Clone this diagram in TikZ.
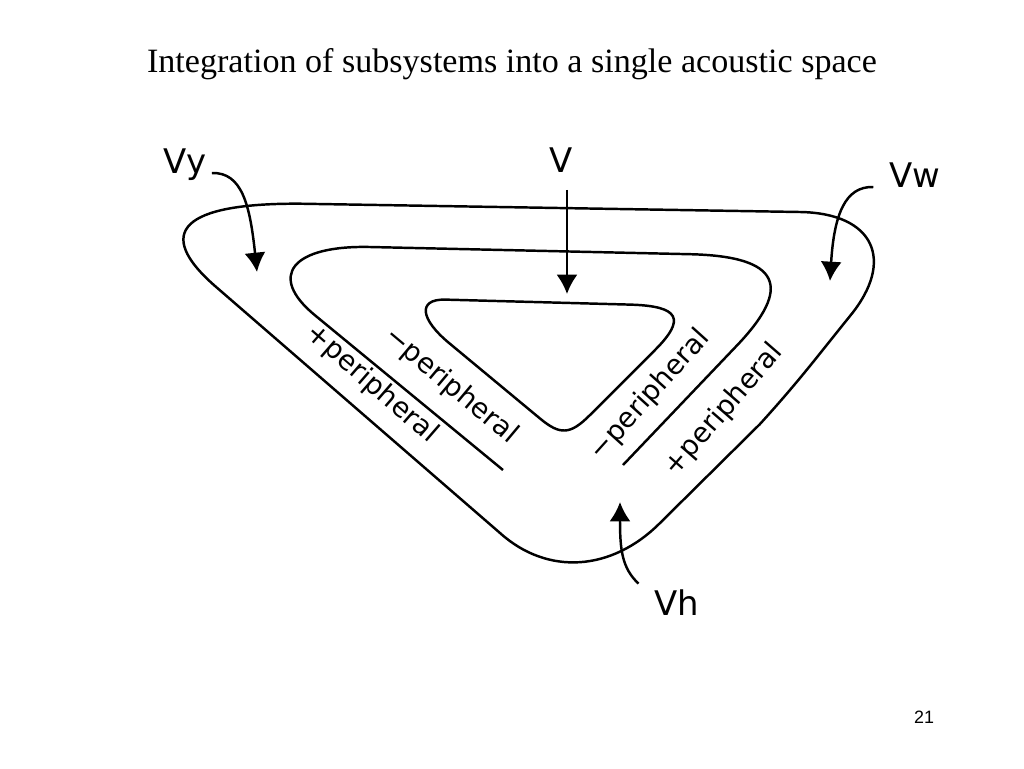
\documentclass[tikz,border=0pt]{standalone}
\usepackage{fontspec}
\setmainfont{Liberation Serif}
\newfontfamily\labelfont{DejaVu Sans}
\newfontfamily\numfont{Liberation Sans}
\usetikzlibrary{arrows.meta}

\begin{document}
\begin{tikzpicture}[x=0.02cm,y=-0.02cm,
  curve/.style={line width=1.4pt},
  arr/.style={line width=1.4pt,-{Latex[length=11pt,width=12pt]}},
  lbl/.style={font=\labelfont\fontsize{19.3}{23}\selectfont,inner sep=3pt},
  per/.style={font=\labelfont\fontsize{15.7}{19}\selectfont,inner sep=0pt}]
  %\draw (0, 0) grid[step=50] (1024, 768);
  \useasboundingbox (0,0) rectangle (1024,768);

  \node[font=\fontsize{19.4}{23}\selectfont,anchor=base] (title) at (512,72)
    {Integration of subsystems into a single acoustic space};
  \node[font=\numfont\fontsize{10.2}{12}\selectfont,anchor=base] (pagenum) at (924,723) {21};

  % outer loop
  \draw[curve] (300,203.7) -- (800,212)
    .. controls (873.5,213.1) and (896,259.9) .. (850,316)
    .. controls (820,353) and (800,380) .. (760,424)
    -- (660,523)
    .. controls (611.4,571.6) and (547.4,575.6) .. (500,533)
    -- (215,286)
    .. controls (153,231.8) and (182.6,203) .. (300,203.7) -- cycle;

  % middle line (open at the bottom)
  \draw[curve] (503,470) -- (315,315.3)
    .. controls (267.1,275.9) and (291.9,245.2) .. (370,247)
    -- (690,254.2)
    .. controls (780,256.3) and (794.4,286.2) .. (735,347.5)
    -- (623,465);

  % inner loop
  \draw[curve] (445,299.6) -- (630,304.6)
    .. controls (679.3,306) and (686.3,318.7) .. (655,350)
    -- (590,415)
    .. controls (570.3,434.7) and (560.3,435.4) .. (540,418.5)
    -- (450,343.8)
    .. controls (419.75,319) and (417.5,299.1) .. (445,299.6) -- cycle;

  % labels
  \node[per,rotate=-41] (pout1) at (372,384) {+peripheral};
  \node[per,rotate=-40] (pin1)  at (451,386) {−peripheral};
  \node[per,rotate=48]  (pin2)  at (650,395) {−peripheral};
  \node[per,rotate=49]  (pout2) at (724,410) {+peripheral};

  \node[lbl,anchor=base] (Vy) at (185,173) {Vy};
  \node[lbl,anchor=base] (V)  at (561,172) {V};
  \node[lbl,anchor=base] (Vw) at (915,187) {Vw};
  \node[lbl,anchor=base] (Vh) at (677,615) {Vh};

  % arrows
  \coordinate (Vytip) at (257,272);
  \coordinate (Vtip)  at (567,294);
  \coordinate (Vwtip) at (830,281);
  \coordinate (Vhtip) at (620,502);

  \draw[arr] (Vy.base east) .. controls (242,172) and (250,205) .. (Vytip);
  \draw[arr,shorten <=7pt] (V.south -| Vtip) -- (Vtip);
  \draw[arr] ([xshift=-6pt]Vw.base west) .. controls (845,186) and (834,215) .. (Vwtip);
  \draw[arr] ([xshift=-6pt]Vh.north west) .. controls (622,568) and (620,550) .. (Vhtip);

\end{tikzpicture}
\end{document}
